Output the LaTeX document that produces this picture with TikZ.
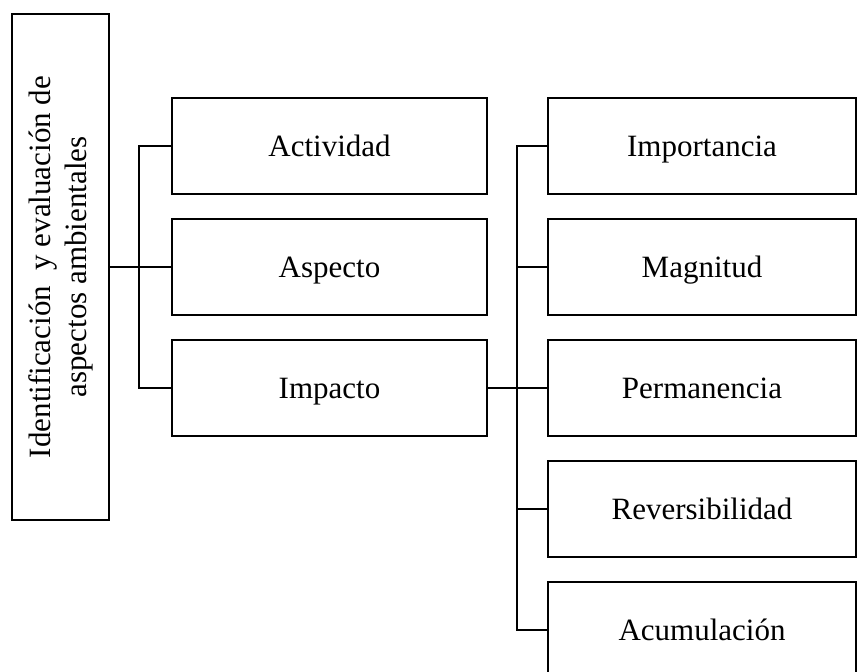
\documentclass[tikz,border=0pt]{standalone}
\usepackage{fontspec}
\setmainfont{Liberation Serif}
\begin{document}
\begin{tikzpicture}[x=1pt,y=-1pt,
  box/.style={draw=black, line width=2.5pt, inner sep=0pt,
    font=\fontsize{31}{36}\selectfont},
  leaf/.style={box, text height=20.5pt, text depth=0pt},
  leftbox/.style={leaf, minimum width=315pt, minimum height=96pt},
  rightbox/.style={leaf, minimum width=308pt, minimum height=96pt},
  link/.style={draw=black, line width=2.3pt}]
\useasboundingbox (0,0) rectangle (858,671);
\clip (0,0) rectangle (858,671);

% root box with rotated title
\node[box, rotate=90, align=center, minimum width=506pt, minimum height=97pt]
  (root) at (60.5,267) {Identificación~ y evaluación de\\aspectos ambientales};

% first level
\node[leftbox] (act) at (329.5,146) {Actividad};
\node[leftbox] (asp) at (329.5,267) {Aspecto};
\node[leftbox] (imp) at (329.5,388) {Impacto};

% second level
\node[rightbox] (ipt) at (702,146) {Importancia};
\node[rightbox] (mag) at (702,267) {Magnitud};
\node[rightbox] (per) at (702,388) {Permanencia};
\node[rightbox] (rev) at (702,509) {Reversibilidad};
\node[rightbox] (acu) at (702,630) {Acumulación};

% bus from the root box
\coordinate (b1) at (139,267);
\draw[link] (root.south) -- (b1);
\draw[link] (act.west) -| (b1) |- (imp.west);
\draw[link] (b1) -- (asp.west);

% bus from the impact box
\coordinate (b2) at (517,388);
\draw[link] (imp.east) -- (b2);
\draw[link] (ipt.west) -| (b2) |- (acu.west);
\draw[link] (b2 |- mag.west) -- (mag.west);
\draw[link] (b2) -- (per.west);
\draw[link] (b2 |- rev.west) -- (rev.west);
\end{tikzpicture}
\end{document}
